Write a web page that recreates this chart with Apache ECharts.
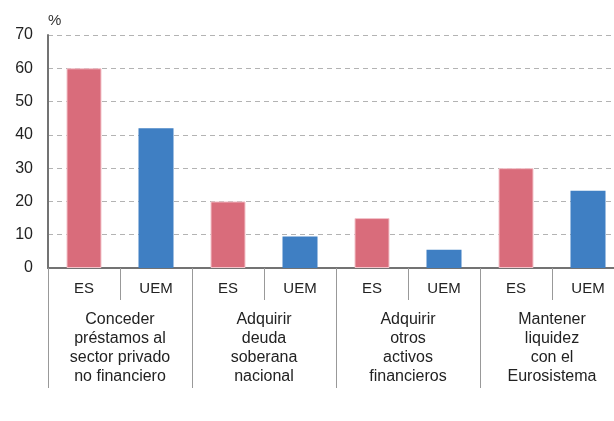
<!DOCTYPE html>
<html>
<head>
<meta charset="utf-8">
<script src="https://cdn.jsdelivr.net/npm/echarts@6/dist/echarts.min.js"></script>
<style>
  html, body { margin: 0; padding: 0; background: #fff; overflow: hidden; }
  #chart { width: 624px; height: 421px; }
</style>
</head>
<body>
<div id="chart"></div>
<script>
// grupos y valores (%)
const groups = [
  'Conceder\npréstamos al\nsector privado\nno financiero',
  'Adquirir\ndeuda\nsoberana\nnacional',
  'Adquirir\notros\nactivos\nfinancieros',
  'Mantener\nliquidez\ncon el\nEurosistema'
]
const areas = ['ES', 'UEM']
const esValues = [60, 20, 15, 30]
const uemValues = [42, 9.5, 5.5, 23.2]
const yTicks = [0, 10, 20, 30, 40, 50, 60, 70]

const colorES = '#D96C7B'
const colorUEM = '#3F7FC3'
const axisGray = '#737373'
const font = 'Liberation Sans, Arial, sans-serif'

// categorias de primer nivel: ES, UEM, ES, UEM...
const subCats = []
const barData = []
groups.forEach((g, i) => {
  subCats.push(areas[0], areas[1])
  barData.push({ value: esValues[i], itemStyle: { color: colorES, borderColor: '#F3C3CA', borderWidth: 1 } })
  barData.push({ value: uemValues[i], itemStyle: { color: colorUEM } })
})

// el grafico original esta recortado por la derecha
const myChart = echarts.init(document.getElementById('chart'), null, { renderer: 'canvas' })
const option = {
  animation: false,
  grid: { left: 48, top: 35, right: 0, bottom: 153, containLabel: false },
  xAxis: [
    {
      type: 'category',
      data: subCats,
      position: 'bottom',
      axisLine: { show: true, lineStyle: { color: axisGray, width: 2 } },
      axisTick: { show: true, interval: 0, length: 32, lineStyle: { color: '#999', width: 1 } },
      axisLabel: { interval: 0, margin: 12, fontSize: 15, lineHeight: 18, color: '#222', fontFamily: font }
    },
    {
      type: 'category',
      data: groups,
      position: 'bottom',
      axisLine: { show: false },
      axisTick: { show: true, interval: 0, length: 120, lineStyle: { color: '#999', width: 1 } },
      axisLabel: { interval: 0, margin: 42, fontSize: 16, lineHeight: 19, color: '#222', fontFamily: font }
    }
  ],
  yAxis: {
    type: 'value',
    min: yTicks[0],
    max: yTicks[yTicks.length - 1],
    interval: 10,
    name: '%',
    nameLocation: 'end',
    nameGap: 7,
    nameTextStyle: { align: 'left', padding: [0, 0, 0, 0], fontSize: 15, color: '#333', fontFamily: font },
    axisLine: { show: true, lineStyle: { color: axisGray, width: 2 } },
    axisTick: { show: false },
    axisLabel: { margin: 15, fontSize: 16, color: '#222', fontFamily: font },
    splitLine: { show: true, lineStyle: { color: '#b3b3b3', type: [5, 4], width: 1 } }
  },
  series: [{
    type: 'bar',
    xAxisIndex: 0,
    data: barData,
    barWidth: 35
  }]
}
option && myChart.setOption(option)
</script>
</body>
</html>
